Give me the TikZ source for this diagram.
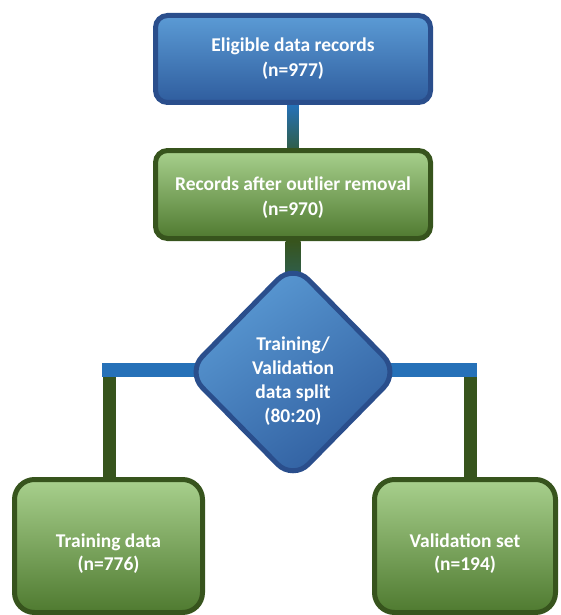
\documentclass[tikz,border=0pt]{standalone}
\usepackage{fontspec}
\setmainfont{Carlito}
\usetikzlibrary{shapes.geometric,calc,backgrounds}
\definecolor{bluetop}{HTML}{5B9BD5}
\definecolor{bluebot}{HTML}{2F5D9E}
\definecolor{blueline}{HTML}{2A4E8C}
\definecolor{greentop}{HTML}{A8D08D}
\definecolor{greenbot}{HTML}{4F7A30}
\definecolor{greenline}{HTML}{37541D}
\definecolor{connblue}{HTML}{2671B8}
\definecolor{conngreen}{HTML}{2F5E4A}
\begin{document}
\begin{tikzpicture}[x=1pt,y=-1pt,
  box/.style={rectangle, line width=5pt, align=center, text=white,
    font=\bfseries\fontsize{19.5}{25}\selectfont, inner sep=0pt},
  bluebox/.style={box, draw=blueline, top color=bluetop, bottom color=bluebot, rounded corners=12pt},
  greenbox/.style={box, draw=greenline, top color=greentop, bottom color=greenbot, rounded corners=12pt},
  leafbox/.style={box, draw=greenline, top color=greentop, bottom color=greenbot, rounded corners=20pt,
    font=\bfseries\fontsize{19.5}{23}\selectfont},
  splitbox/.style={diamond, line width=5pt, draw=blueline, top color=bluetop, bottom color=bluebot,
    shading angle=35, rounded corners=22pt, align=center, text=white, inner sep=0pt,
    font=\bfseries\fontsize{19.5}{24}\selectfont},
  greenconn/.style={line width=13pt, draw=greenline},
  blueconn/.style={line width=14pt, draw=connblue}
]
\useasboundingbox (0,0) rectangle (561,615);

\node[bluebox, minimum width=275pt, minimum height=87pt] (top) at (293,59) {Eligible data records\\(n=977)};
\node[greenbox, minimum width=275pt, minimum height=88pt] (mid) at (293,194.5) {\rule{0pt}{20pt}Records after outlier removal\\(n=970)};
\node[leafbox, minimum width=188pt, minimum height=133pt] (train) at (108.5,546) {\rule{0pt}{28pt}Training data\\(n=776)};
\node[leafbox, minimum width=181pt, minimum height=133pt] (valid) at (465,546) {\rule{0pt}{28pt}Validation set\\(n=194)};
\node[splitbox, minimum width=214pt, minimum height=218pt] (split) at (293,372)
  {\rule{0pt}{32pt}Training/\\Validation\\data split\\(80:20)};

\coordinate (L) at (109,370);
\coordinate (R) at (470,370);

\begin{scope}[on background layer]
\shade[top color=connblue, bottom color=conngreen]
  ($(top.south)+(-5.5,0)$) rectangle ($(mid.north)+(5.5,0)$);
\shade[top color=greenline, bottom color=conngreen]
  ($(mid.south)+(-7.5,0)$) rectangle ($(split.north)+(7.5,14)$);
\draw[greenconn] ($(L)+(0,7)$) -- (train.north -| L);
\draw[greenconn] ($(R)+(0,7)$) -- (valid.north -| R);
\draw[blueconn] ($(L)+(-7,0)$) -- ($(R)+(7,0)$);
\end{scope}
\end{tikzpicture}
\end{document}
